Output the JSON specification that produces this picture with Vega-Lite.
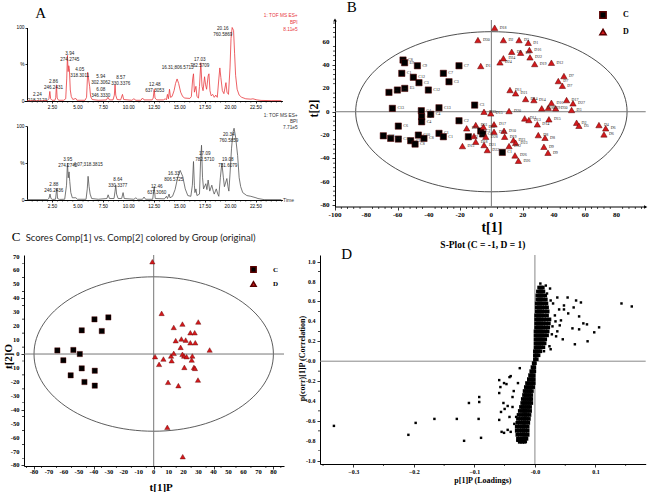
{
"$schema":"https://vega.github.io/schema/vega-lite/v6.json",
"padding":{"left":2,"top":0,"right":0,"bottom":0},
"bounds":"flush",
"align":"each",
"columns":2,
"spacing":{"row":48,"column":36},
"resolve":{"scale":{"color":"independent","shape":"independent"},"legend":{"color":"independent","shape":"independent"}},
"config":{"view":{"stroke":null},"axis":{"grid":false,"domainColor":"#000","tickColor":"#000","labelColor":"#000","titleColor":"#000","labelFont":"Liberation Serif","labelFontWeight":"bold","titleFont":"Liberation Serif","titleFontWeight":"bold","tickSize":3,"labelPadding":1,"domainWidth":1,"tickWidth":0.8,"labelFlush":false},"legend":{"padding":0}},
"concat":[
 {"width":258.4,"height":180,
  "resolve":{"scale":{"x":"independent","y":"independent"},"axis":{"x":"independent","y":"independent"}},
  "layer":[
   {"layer":[
    {"data":{"values":[{"t":0,"v":0.5},{"t":1.5,"v":0.5},{"t":2.0,"v":0.8},{"t":2.15,"v":3},{"t":2.24,"v":13},{"t":2.32,"v":3},{"t":2.45,"v":1},{"t":2.75,"v":1},{"t":2.82,"v":5},{"t":2.89,"v":22},{"t":2.96,"v":4},{"t":3.1,"v":1},{"t":3.6,"v":1},{"t":3.8,"v":3},{"t":3.9,"v":30},{"t":3.97,"v":62},{"t":4.04,"v":40},{"t":4.1,"v":48},{"t":4.16,"v":44},{"t":4.25,"v":15},{"t":4.35,"v":6},{"t":4.5,"v":2},{"t":4.79,"v":3.5},{"t":4.9,"v":1},{"t":5.7,"v":1},{"t":5.85,"v":5},{"t":5.96,"v":39},{"t":6.05,"v":30},{"t":6.15,"v":20},{"t":6.25,"v":6},{"t":6.4,"v":2},{"t":7.0,"v":1},{"t":7.8,"v":1.5},{"t":7.95,"v":5},{"t":8.1,"v":1.5},{"t":8.45,"v":1.5},{"t":8.58,"v":8},{"t":8.65,"v":22},{"t":8.72,"v":8},{"t":8.85,"v":2},{"t":9.2,"v":1.5},{"t":9.38,"v":9},{"t":9.5,"v":2},{"t":10.3,"v":1},{"t":10.5,"v":3},{"t":10.7,"v":1},{"t":11.2,"v":1},{"t":11.35,"v":4},{"t":11.5,"v":1.5},{"t":12.3,"v":1.5},{"t":12.4,"v":4},{"t":12.5,"v":16},{"t":12.58,"v":4},{"t":12.75,"v":1.5},{"t":13.4,"v":1.5},{"t":13.6,"v":3},{"t":13.7,"v":1.5},{"t":13.8,"v":9},{"t":13.9,"v":3},{"t":14.0,"v":16},{"t":14.1,"v":5},{"t":14.25,"v":6},{"t":14.45,"v":14},{"t":14.6,"v":24},{"t":14.75,"v":30},{"t":14.9,"v":24},{"t":15.1,"v":12},{"t":15.3,"v":6},{"t":15.5,"v":4},{"t":16.0,"v":3.5},{"t":16.15,"v":6},{"t":16.28,"v":30},{"t":16.36,"v":37},{"t":16.45,"v":12},{"t":16.6,"v":20},{"t":16.7,"v":6},{"t":16.85,"v":4},{"t":16.95,"v":20},{"t":17.08,"v":52},{"t":17.2,"v":20},{"t":17.3,"v":14},{"t":17.45,"v":33},{"t":17.55,"v":22},{"t":17.65,"v":16},{"t":17.8,"v":34},{"t":17.88,"v":37},{"t":17.98,"v":14},{"t":18.1,"v":7},{"t":18.25,"v":9},{"t":18.4,"v":5},{"t":18.55,"v":8},{"t":18.7,"v":5},{"t":18.85,"v":30},{"t":18.95,"v":45},{"t":19.05,"v":32},{"t":19.2,"v":14},{"t":19.35,"v":10},{"t":19.55,"v":25},{"t":19.65,"v":12},{"t":19.8,"v":9},{"t":19.95,"v":45},{"t":20.05,"v":85},{"t":20.16,"v":100},{"t":20.3,"v":96},{"t":20.4,"v":65},{"t":20.5,"v":35},{"t":20.65,"v":16},{"t":20.85,"v":8},{"t":21.1,"v":5},{"t":21.5,"v":3},{"t":22.0,"v":2.5},{"t":22.2,"v":3},{"t":22.6,"v":1.5},{"t":23.0,"v":0.8},{"t":24.0,"v":0.5},{"t":25.0,"v":0.5}]},
     "mark":{"type":"line","color":"#e8383d","strokeWidth":0.8},
     "encoding":{
      "x":{"field":"t","type":"quantitative","scale":{"domain":[-0.3,25.1],"nice":false,"zero":false},
       "axis":{"title":null,"orient":"bottom","offset":-99,"labels":false,"values":[2.5,5,7.5,10,12.5,15,17.5,20,22.5],"tickSize":2}},
      "y":{"field":"v","type":"quantitative","scale":{"domain":[0,100],"range":[81,7.5],"nice":false},
       "axis":{"title":null,"orient":"left","values":[0,50,100],"labelExpr":"datum.value == 50 ? '%' : datum.label","offset":-3,"labelFont":"Liberation Sans","labelFontWeight":"normal","labelFontSize":4.8,"tickSize":2,"labelPadding":1}}}},
    {"data":{"values":[{"t":0.5},{"t":1},{"t":1.5},{"t":2},{"t":3},{"t":3.5},{"t":4},{"t":4.5},{"t":5.5},{"t":6},{"t":6.5},{"t":7},{"t":8},{"t":8.5},{"t":9},{"t":9.5},{"t":10.5},{"t":11},{"t":11.5},{"t":12},{"t":13},{"t":13.5},{"t":14},{"t":14.5},{"t":15.5},{"t":16},{"t":16.5},{"t":17},{"t":18},{"t":18.5},{"t":19},{"t":19.5},{"t":20.5},{"t":21},{"t":21.5},{"t":22},{"t":23},{"t":23.5},{"t":24},{"t":24.5},{"t":25}]},
     "mark":{"type":"tick","orient":"vertical","size":1.5,"thickness":0.7,"color":"#000","yOffset":0.75,"opacity":1},
     "encoding":{"x":{"field":"t","type":"quantitative"},"y":{"datum":0,"type":"quantitative"}}},
    {"data":{"values":[{"t":2.5,"l":"2.50"},{"t":5,"l":"5.00"},{"t":7.5,"l":"7.50"},{"t":10,"l":"10.00"},{"t":12.5,"l":"12.50"},{"t":15,"l":"15.00"},{"t":17.5,"l":"17.50"},{"t":20,"l":"20.00"},{"t":22.5,"l":"22.50"}]},
     "mark":{"type":"text","font":"Liberation Sans","fontSize":4.8,"baseline":"top","align":"center","dy":3.5,"color":"#000"},
     "encoding":{"x":{"field":"t","type":"quantitative"},"y":{"datum":0,"type":"quantitative"},"text":{"field":"l"}}},
    {"data":{"values":[{"t":1.02,"v":4.8,"lbl":"2.24\n218.2123"},{"t":2.6,"v":23.8,"lbl":"2.86\n246.2431"},{"t":4.2,"v":61.9,"lbl":"3.94\n274.2745"},{"t":5.18,"v":40.1,"lbl":"4.05\n318.3011"},{"t":7.25,"v":30.6,"lbl":"5.94\n302.3062"},{"t":7.25,"v":12.9,"lbl":"6.08\n346.3330"},{"t":9.21,"v":27.9,"lbl":"8.57\n330.3376"},{"t":12.56,"v":18.4,"lbl":"12.48\n637.3053"},{"t":14.8,"v":41.5,"lbl":"16.31;806.5713"},{"t":16.98,"v":53.7,"lbl":"17.03\n782.5709"},{"t":19.24,"v":94.6,"lbl":"20.16\n760.5869"}]},
     "mark":{"type":"text","font":"Liberation Sans","fontSize":4.6,"lineHeight":6,"lineBreak":"\n","baseline":"bottom","align":"center","color":"#222"},
     "encoding":{"x":{"field":"t","type":"quantitative"},"y":{"field":"v","type":"quantitative"},"text":{"field":"lbl"}}},
    {"data":{"values":[{"t":26.6,"v":120.4,"lbl":"1: TOF MS ES+\nBPI\n8.11e5"}]},
     "mark":{"type":"text","font":"Liberation Sans","fontSize":4.8,"lineHeight":7,"lineBreak":"\n","baseline":"top","align":"right","color":"#e8383d"},
     "encoding":{"x":{"field":"t","type":"quantitative"},"y":{"field":"v","type":"quantitative"},"text":{"field":"lbl"}}},
    {"data":{"values":[{"t":1.35,"v":113,"lbl":"A"}]},
     "mark":{"type":"text","font":"Liberation Serif","fontSize":15,"baseline":"alphabetic","align":"center","color":"#000"},
     "encoding":{"x":{"field":"t","type":"quantitative"},"y":{"field":"v","type":"quantitative"},"text":{"field":"lbl"}}}
   ]},
   {"layer":[
    {"data":{"values":[{"t":0,"v":0.5},{"t":2.0,"v":0.5},{"t":2.15,"v":2},{"t":2.26,"v":8},{"t":2.35,"v":2},{"t":2.5,"v":0.8},{"t":2.8,"v":1},{"t":2.92,"v":16},{"t":3.0,"v":2},{"t":3.2,"v":0.8},{"t":3.7,"v":1},{"t":3.88,"v":20},{"t":3.97,"v":50},{"t":4.05,"v":30},{"t":4.13,"v":38},{"t":4.2,"v":25},{"t":4.3,"v":10},{"t":4.45,"v":3},{"t":4.8,"v":3},{"t":4.95,"v":1},{"t":5.8,"v":1},{"t":5.92,"v":15},{"t":6.0,"v":32},{"t":6.1,"v":18},{"t":6.2,"v":8},{"t":6.35,"v":2},{"t":7.0,"v":1},{"t":7.85,"v":2},{"t":7.97,"v":7},{"t":8.1,"v":2},{"t":8.55,"v":2},{"t":8.65,"v":12},{"t":8.72,"v":20},{"t":8.8,"v":8},{"t":8.95,"v":2},{"t":9.3,"v":2},{"t":9.44,"v":10},{"t":9.55,"v":2},{"t":10.5,"v":1},{"t":10.7,"v":3},{"t":10.85,"v":1},{"t":11.35,"v":1},{"t":11.5,"v":4},{"t":11.65,"v":1},{"t":12.35,"v":1},{"t":12.5,"v":18},{"t":12.6,"v":2},{"t":13.5,"v":1.5},{"t":13.7,"v":5},{"t":13.8,"v":2},{"t":13.96,"v":8},{"t":14.05,"v":3},{"t":14.3,"v":5},{"t":14.55,"v":14},{"t":14.8,"v":30},{"t":15.05,"v":40},{"t":15.3,"v":32},{"t":15.55,"v":15},{"t":15.8,"v":6},{"t":16.1,"v":5},{"t":16.25,"v":20},{"t":16.36,"v":52},{"t":16.45,"v":20},{"t":16.5,"v":10},{"t":16.6,"v":15},{"t":16.7,"v":6},{"t":16.95,"v":8},{"t":17.05,"v":50},{"t":17.15,"v":74},{"t":17.25,"v":30},{"t":17.35,"v":15},{"t":17.57,"v":22},{"t":17.68,"v":14},{"t":17.8,"v":27},{"t":17.96,"v":12},{"t":18.16,"v":20},{"t":18.3,"v":12},{"t":18.4,"v":8},{"t":18.6,"v":15},{"t":18.75,"v":8},{"t":18.85,"v":5},{"t":19.0,"v":30},{"t":19.15,"v":50},{"t":19.3,"v":30},{"t":19.4,"v":18},{"t":19.64,"v":29},{"t":19.75,"v":18},{"t":19.84,"v":12},{"t":19.95,"v":35},{"t":20.1,"v":70},{"t":20.25,"v":92},{"t":20.35,"v":97},{"t":20.5,"v":85},{"t":20.7,"v":60},{"t":20.85,"v":30},{"t":21.0,"v":18},{"t":21.2,"v":10},{"t":21.6,"v":6},{"t":22.0,"v":5},{"t":22.5,"v":3},{"t":22.7,"v":2},{"t":23.3,"v":0.5},{"t":25.0,"v":0.5}]},
     "mark":{"type":"line","color":"#555","strokeWidth":0.8},
     "encoding":{
      "x":{"field":"t","type":"quantitative","scale":{"domain":[-0.3,25.1],"nice":false,"zero":false},
       "axis":{"title":null,"orient":"bottom","labels":false,"values":[2.5,5,7.5,10,12.5,15,17.5,20,22.5],"tickSize":2}},
      "y":{"field":"v","type":"quantitative","scale":{"domain":[0,100],"range":[180,106],"nice":false},
       "axis":{"title":null,"orient":"left","values":[0,50,100],"labelExpr":"datum.value == 50 ? '%' : datum.label","offset":-3,"labelFont":"Liberation Sans","labelFontWeight":"normal","labelFontSize":4.8,"tickSize":2,"labelPadding":1}}}},
    {"data":{"values":[{"t":0.5},{"t":1},{"t":1.5},{"t":2},{"t":3},{"t":3.5},{"t":4},{"t":4.5},{"t":5.5},{"t":6},{"t":6.5},{"t":7},{"t":8},{"t":8.5},{"t":9},{"t":9.5},{"t":10.5},{"t":11},{"t":11.5},{"t":12},{"t":13},{"t":13.5},{"t":14},{"t":14.5},{"t":15.5},{"t":16},{"t":16.5},{"t":17},{"t":18},{"t":18.5},{"t":19},{"t":19.5},{"t":20.5},{"t":21},{"t":21.5},{"t":22},{"t":23},{"t":23.5},{"t":24},{"t":24.5},{"t":25}]},
     "mark":{"type":"tick","orient":"vertical","size":1.5,"thickness":0.7,"color":"#000","yOffset":0.75,"opacity":1},
     "encoding":{"x":{"field":"t","type":"quantitative"},"y":{"datum":0,"type":"quantitative"}}},
    {"data":{"values":[{"t":2.5,"l":"2.50"},{"t":5,"l":"5.00"},{"t":7.5,"l":"7.50"},{"t":10,"l":"10.00"},{"t":12.5,"l":"12.50"},{"t":15,"l":"15.00"},{"t":17.5,"l":"17.50"},{"t":20,"l":"20.00"},{"t":22.5,"l":"22.50"}]},
     "mark":{"type":"text","font":"Liberation Sans","fontSize":4.8,"baseline":"top","align":"center","dy":3.5,"color":"#000"},
     "encoding":{"x":{"field":"t","type":"quantitative"},"y":{"datum":0,"type":"quantitative"},"text":{"field":"l"}}},
    {"data":{"values":[{"t":2.63,"v":16.9,"lbl":"2.88\n246.2436"},{"t":4.0,"v":52,"lbl":"3.95\n274.2742"},{"t":6.0,"v":44.5,"lbl":"4.07;318.3815"},{"t":8.92,"v":25,"lbl":"8.64\n330.3377"},{"t":12.75,"v":14.2,"lbl":"12.46\n637.3060"},{"t":14.42,"v":31.8,"lbl":"16.33\n806.5725"},{"t":17.47,"v":60.1,"lbl":"17.09\n782.5710"},{"t":19.73,"v":52,"lbl":"19.08\n731.6079"},{"t":19.83,"v":84.5,"lbl":"20.34\n760.5859"}]},
     "mark":{"type":"text","font":"Liberation Sans","fontSize":4.6,"lineHeight":6,"lineBreak":"\n","baseline":"bottom","align":"center","color":"#222"},
     "encoding":{"x":{"field":"t","type":"quantitative"},"y":{"field":"v","type":"quantitative"},"text":{"field":"lbl"}}},
    {"data":{"values":[{"t":26.6,"v":118.2,"lbl":"1: TOF MS ES+\nBPI\n7.71e5"}]},
     "mark":{"type":"text","font":"Liberation Sans","fontSize":4.8,"lineHeight":6,"lineBreak":"\n","baseline":"top","align":"right","color":"#333"},
     "encoding":{"x":{"field":"t","type":"quantitative"},"y":{"field":"v","type":"quantitative"},"text":{"field":"lbl"}}},
    {"data":{"values":[{"t":25.7,"v":0,"lbl":"Time"}]},
     "mark":{"type":"text","font":"Liberation Sans","fontSize":5,"baseline":"middle","align":"center","color":"#333"},
     "encoding":{"x":{"field":"t","type":"quantitative"},"y":{"field":"v","type":"quantitative"},"text":{"field":"lbl"}}}
   ]}
  ]},
 {"width":325.7,"height":187,
  "layer":[
   {"data":{"values":[{"cx":0,"cy":0}]},
    "mark":{"type":"point","shape":"M-1,0C-1,-0.326,-0.552,-0.59,0,-0.59C0.552,-0.59,1,-0.326,1,0C1,0.326,0.552,0.59,0,0.59C-0.552,0.59,-1,0.326,-1,0Z","size":73658,"filled":false,"stroke":"#222","strokeWidth":0.8,"opacity":1},
    "encoding":{
     "x":{"field":"cx","type":"quantitative","scale":{"domain":[-109.6,98.7],"nice":false,"zero":false},
      "axis":{"title":"t[1]","titleFontSize":14,"titleX":171.4,"titleY":20,"titleBaseline":"middle","titleAlign":"center","domain":false,"labels":false,"values":[-100,-80,-60,-40,-20,0,20,40,60,80],"tickSize":3}},
     "y":{"field":"cy","type":"quantitative","scale":{"domain":[-81.6,78.6],"nice":false,"zero":false},
      "axis":{"title":"t[2]","titleFontSize":12,"titleX":-21.3,"titleY":88,"titleBaseline":"middle","titleAlign":"center","titleAngle":-90,"offset":-15,"labels":false,"values":[-80,-60,-40,-20,0,20,40,60],"tickSize":3}}}},
   {"data":{"values":[{}]},"mark":{"type":"rule","color":"#000","strokeWidth":1},"encoding":{"x":{"datum":-100},"x2":{"datum":98.7},"y":{"datum":-81.6}}},
   {"data":{"values":[{"v":-96},{"v":-92},{"v":-88},{"v":-84},{"v":-76},{"v":-72},{"v":-68},{"v":-64},{"v":-56},{"v":-52},{"v":-48},{"v":-44},{"v":-36},{"v":-32},{"v":-28},{"v":-24},{"v":-16},{"v":-12},{"v":-8},{"v":-4},{"v":4},{"v":8},{"v":12},{"v":16},{"v":24},{"v":28},{"v":32},{"v":36},{"v":44},{"v":48},{"v":52},{"v":56},{"v":64},{"v":68},{"v":72},{"v":76},{"v":84},{"v":88},{"v":92},{"v":96}]},
    "mark":{"type":"tick","orient":"vertical","size":2,"thickness":0.7,"color":"#000","yOffset":1,"opacity":1},
    "encoding":{"x":{"field":"v","type":"quantitative"},"y":{"datum":-81.6,"type":"quantitative"}}},
   {"data":{"values":[{"v":-76},{"v":-72},{"v":-68},{"v":-64},{"v":-56},{"v":-52},{"v":-48},{"v":-44},{"v":-36},{"v":-32},{"v":-28},{"v":-24},{"v":-16},{"v":-12},{"v":-8},{"v":-4},{"v":4},{"v":8},{"v":12},{"v":16},{"v":24},{"v":28},{"v":32},{"v":36},{"v":44},{"v":48},{"v":52},{"v":56},{"v":64},{"v":68},{"v":72},{"v":76}]},
    "mark":{"type":"tick","orient":"horizontal","size":2,"thickness":0.7,"color":"#000","xOffset":-1,"opacity":1},
    "encoding":{"y":{"field":"v","type":"quantitative"},"x":{"datum":-100,"type":"quantitative"}}},
   {"data":{"values":[{"v":-100,"l":"-100"},{"v":-80,"l":"-80"},{"v":-60,"l":"-60"},{"v":-40,"l":"-40"},{"v":-20,"l":"-20"},{"v":0,"l":"0"},{"v":20,"l":"20"},{"v":40,"l":"40"},{"v":60,"l":"60"},{"v":80,"l":"80"}]},
    "mark":{"type":"text","font":"Liberation Serif","fontWeight":"bold","fontSize":7,"baseline":"top","align":"center","dy":3.5,"color":"#000"},
    "encoding":{"x":{"field":"v","type":"quantitative"},"y":{"datum":-81.6,"type":"quantitative"},"text":{"field":"l"}}},
   {"data":{"values":[{"v":-80,"l":"-80"},{"v":-60,"l":"-60"},{"v":-40,"l":"-40"},{"v":-20,"l":"-20"},{"v":0,"l":"0"},{"v":20,"l":"20"},{"v":40,"l":"40"},{"v":60,"l":"60"}]},
    "mark":{"type":"text","font":"Liberation Serif","fontWeight":"bold","fontSize":7,"baseline":"middle","align":"right","dx":-5.5,"color":"#000"},
    "encoding":{"y":{"field":"v","type":"quantitative"},"x":{"datum":-100,"type":"quantitative"},"text":{"field":"l"}}},
   {"data":{"values":[{}]},"mark":{"type":"rule","color":"#777","strokeWidth":1},"encoding":{"x":{"datum":-100},"x2":{"datum":98.7},"y":{"datum":0}}},
   {"data":{"values":[{}]},"mark":{"type":"rule","color":"#777","strokeWidth":1},"encoding":{"x":{"datum":0}}},
   {"data":{"name":"bpts","values":[{"x":-56.5,"y":44.3,"g":"C","l":"C8"},{"x":-55.5,"y":42,"g":"C","l":"E9"},{"x":-47.3,"y":39.4,"g":"C","l":"C9"},{"x":-20.7,"y":39.4,"g":"C","l":"C7"},{"x":-57.3,"y":32.9,"g":"C","l":"C1"},{"x":-49.9,"y":29.5,"g":"C","l":"C12"},{"x":-30.7,"y":32.9,"g":"C","l":"C7"},{"x":-46.3,"y":24.9,"g":"C","l":"C3"},{"x":-27.1,"y":25.7,"g":"C","l":"C3"},{"x":-65.5,"y":16.6,"g":"C","l":"C5"},{"x":-60.1,"y":18.6,"g":"C","l":"C5"},{"x":-55.4,"y":20,"g":"C","l":"E5"},{"x":-40.3,"y":18.6,"g":"C","l":"C12"},{"x":-63.3,"y":2.9,"g":"C","l":"C13"},{"x":-33.5,"y":3.4,"g":"C","l":"C13"},{"x":-10.7,"y":5.7,"g":"C","l":"C3"},{"x":-44.8,"y":0.9,"g":"C","l":"C4"},{"x":-38.8,"y":-2.2,"g":"C","l":"C4"},{"x":-44.6,"y":-4.3,"g":"C","l":"C4"},{"x":-44.6,"y":-8.6,"g":"C","l":"C4"},{"x":-20.7,"y":-7.7,"g":"C","l":"C2"},{"x":-59.5,"y":-12.3,"g":"C","l":"C6"},{"x":-69.1,"y":-20.6,"g":"C","l":"C11"},{"x":-64.4,"y":-22.8,"g":"C","l":"C11"},{"x":-59.5,"y":-23.4,"g":"C","l":"C10"},{"x":-51.6,"y":-24.8,"g":"C","l":"C10"},{"x":-48.8,"y":-27.7,"g":"C","l":"C8"},{"x":-46.7,"y":-20,"g":"C","l":"C10"},{"x":-43.1,"y":-22.8,"g":"C","l":"C8"},{"x":-33.5,"y":-18.5,"g":"C","l":"C1"},{"x":-30.7,"y":-21.4,"g":"C","l":"C1"},{"x":-6.8,"y":-16.5,"g":"C","l":"C2"},{"x":-5.5,"y":-19,"g":"C","l":"C6"},{"x":-14.7,"y":-21.4,"g":"C","l":"C2"},{"x":7,"y":-34.8,"g":"C","l":"C1"},
    {"x":2.1,"y":72,"g":"D","l":"D18"},{"x":-8.6,"y":61.4,"g":"D","l":"D30"},{"x":7.7,"y":61.4,"g":"D","l":"D2"},{"x":17.7,"y":61.4,"g":"D","l":"D3"},{"x":23.6,"y":59.1,"g":"D","l":"D1"},{"x":13,"y":51.4,"g":"D","l":"D5"},{"x":18.7,"y":50.6,"g":"D","l":"D9"},{"x":24.3,"y":52.9,"g":"D","l":"D16"},{"x":24.7,"y":46.6,"g":"D","l":"D22"},{"x":27.7,"y":40.9,"g":"D","l":"D19"},{"x":38.4,"y":42,"g":"D","l":"D12"},{"x":7.7,"y":45.8,"g":"D","l":"D24"},{"x":5.5,"y":42.3,"g":"D","l":"D24"},{"x":-6.8,"y":39.2,"g":"D","l":"D1"},{"x":46.4,"y":30.6,"g":"D","l":"D7"},{"x":42.8,"y":26.3,"g":"D","l":"D7"},{"x":45.4,"y":22.3,"g":"D","l":"D7"},{"x":11.9,"y":18.6,"g":"D","l":"D11"},{"x":15.5,"y":15.8,"g":"D","l":"D21"},{"x":21.9,"y":10.9,"g":"D","l":"D14"},{"x":27.2,"y":10,"g":"D","l":"D14"},{"x":38.4,"y":7.7,"g":"D","l":"D16"},{"x":48.1,"y":10,"g":"D","l":"D17"},{"x":52.2,"y":7.2,"g":"D","l":"D27"},{"x":32.2,"y":2.9,"g":"D","l":"D28"},{"x":36.4,"y":3.4,"g":"D","l":"D29"},{"x":41.1,"y":2.9,"g":"D","l":"D30"},{"x":51.3,"y":1.5,"g":"D","l":"D3"},{"x":-4.7,"y":0,"g":"D","l":"D33"},{"x":-0.4,"y":-1.4,"g":"D","l":"D15"},{"x":11.3,"y":0.6,"g":"D","l":"D20"},{"x":21.3,"y":-5.7,"g":"D","l":"D11"},{"x":24,"y":-7.1,"g":"D","l":"D13"},{"x":29.4,"y":-10.8,"g":"D","l":"D14"},{"x":36.8,"y":-6.5,"g":"D","l":"D15"},{"x":54.5,"y":-9.4,"g":"D","l":"D2"},{"x":56,"y":-12,"g":"D","l":"D5"},{"x":68.8,"y":-11.4,"g":"D","l":"D4"},{"x":73.1,"y":-14.2,"g":"D","l":"D6"},{"x":72,"y":-19.4,"g":"D","l":"D6"},{"x":-15.8,"y":-14.2,"g":"D","l":"D31"},{"x":-10,"y":-11.4,"g":"D","l":"D31"},{"x":-5.1,"y":-12.9,"g":"D","l":"D32"},{"x":1.7,"y":-10.8,"g":"D","l":"D17"},{"x":1.7,"y":-17.1,"g":"D","l":"D13"},{"x":8.1,"y":-16.3,"g":"D","l":"D10"},{"x":30,"y":-20,"g":"D","l":"D8"},{"x":34.3,"y":-22.3,"g":"D","l":"D8"},{"x":-11.1,"y":-20.8,"g":"D","l":"D25"},{"x":-3.6,"y":-21.4,"g":"D","l":"D28"},{"x":8.5,"y":-21.4,"g":"D","l":"D19"},{"x":14.1,"y":-24.3,"g":"D","l":"D23"},{"x":-10,"y":-25.7,"g":"D","l":"D18"},{"x":-18.5,"y":-29.4,"g":"D","l":"D15"},{"x":-4.7,"y":-28.5,"g":"D","l":"D21"},{"x":11.3,"y":-29.4,"g":"D","l":"D12"},{"x":15.5,"y":-26.6,"g":"D","l":"D23"},{"x":33.6,"y":-30,"g":"D","l":"D9"},{"x":36.2,"y":-35.1,"g":"D","l":"D9"},{"x":-2.6,"y":-32.8,"g":"D","l":"D22"},{"x":15.1,"y":-37.4,"g":"D","l":"D26"},{"x":17.3,"y":-42,"g":"D","l":"D26"}]},
    "mark":{"type":"point","filled":true,"size":40,"opacity":1,"stroke":"#5a0000","strokeWidth":0.5},
    "encoding":{"x":{"field":"x","type":"quantitative"},"y":{"field":"y","type":"quantitative"},
     "color":{"field":"g","type":"nominal","scale":{"domain":["C","D"],"range":["#000000","#d3191c"]},"legend":{"orient":"none","legendX":279,"legendY":-9,"title":null,"labelFont":"Liberation Serif","labelFontWeight":"bold","labelFontSize":8,"labelOffset":16,"rowPadding":4,"symbolSize":40}},
     "shape":{"field":"g","type":"nominal","scale":{"domain":["C","D"],"range":["square","triangle-up"]},"legend":{"orient":"none","legendX":279,"legendY":-9,"title":null,"labelFont":"Liberation Serif","labelFontWeight":"bold","labelFontSize":8,"labelOffset":16,"rowPadding":4,"symbolSize":40}}}},
   {"data":{"name":"bpts"},
    "mark":{"type":"text","font":"Liberation Serif","fontSize":4,"align":"left","baseline":"middle","dx":5,"color":"#222"},
    "encoding":{"x":{"field":"x","type":"quantitative"},"y":{"field":"y","type":"quantitative"},"text":{"field":"l"}}},
   {"data":{"values":[{"x":-100,"y":78.6,"s":"triangle-up"},{"x":98.7,"y":-81.6,"s":"triangle-right"}]},
    "mark":{"type":"point","filled":true,"size":14,"opacity":1,"color":"#000"},
    "encoding":{"x":{"field":"x","type":"quantitative"},"y":{"field":"y","type":"quantitative"},"shape":{"field":"s","type":"nominal","scale":null,"legend":null}}},
   {"data":{"values":[{"x":-89.3,"y":85.4,"lbl":"B"}]},
    "mark":{"type":"text","font":"Liberation Serif","fontSize":15,"baseline":"alphabetic","align":"center","color":"#000"},
    "encoding":{"x":{"field":"x","type":"quantitative"},"y":{"field":"y","type":"quantitative"},"text":{"field":"lbl"}}}
  ]},
 {"width":260,"height":211,
  "layer":[
   {"data":{"values":[{"cx":0,"cy":0}]},
    "mark":{"type":"point","shape":"M-1,0C-1,-0.356,-0.552,-0.645,0,-0.645C0.552,-0.645,1,-0.356,1,0C1,0.356,0.552,0.645,0,0.645C-0.552,0.645,-1,0.356,-1,0Z","size":57312,"filled":false,"stroke":"#333","strokeWidth":0.8,"opacity":1},
    "encoding":{
     "x":{"field":"cx","type":"quantitative","scale":{"domain":[-86.7,87.1],"nice":false,"zero":false},
      "axis":{"title":"t[1]P","titleFontSize":11,"titleX":136.7,"titleY":21,"titleBaseline":"middle","titleAlign":"center","labels":false,"values":[-80,-70,-60,-50,-40,-30,-20,-10,0,10,20,30,40,50,60,70,80],"tickSize":3}},
     "y":{"field":"cy","type":"quantitative","scale":{"domain":[-80.4,71.1],"nice":false,"zero":false},
      "axis":{"title":"t[2]O","titleFontSize":11,"titleX":-15.3,"titleY":101,"titleBaseline":"middle","titleAlign":"center","titleAngle":-90,"labels":false,"values":[-80,-70,-60,-50,-40,-30,-20,-10,0,10,20,30,40,50,60,70],"tickSize":3}}}},
   {"data":{"values":[{"v":-85},{"v":-75},{"v":-65},{"v":-55},{"v":-45},{"v":-35},{"v":-25},{"v":-15},{"v":-5},{"v":5},{"v":15},{"v":25},{"v":35},{"v":45},{"v":55},{"v":65},{"v":75},{"v":85}]},
    "mark":{"type":"tick","orient":"vertical","size":2,"thickness":0.7,"color":"#000","yOffset":1,"opacity":1},
    "encoding":{"x":{"field":"v","type":"quantitative"},"y":{"datum":-80.4,"type":"quantitative"}}},
   {"data":{"values":[{"v":-75},{"v":-65},{"v":-55},{"v":-45},{"v":-35},{"v":-25},{"v":-15},{"v":-5},{"v":5},{"v":15},{"v":25},{"v":35},{"v":45},{"v":55},{"v":65}]},
    "mark":{"type":"tick","orient":"horizontal","size":2,"thickness":0.7,"color":"#000","xOffset":-1,"opacity":1},
    "encoding":{"y":{"field":"v","type":"quantitative"},"x":{"datum":-86.7,"type":"quantitative"}}},
   {"data":{"values":[{"v":-80,"l":"-80"},{"v":-70,"l":"-70"},{"v":-60,"l":"-60"},{"v":-50,"l":"-50"},{"v":-40,"l":"-40"},{"v":-30,"l":"-30"},{"v":-20,"l":"-20"},{"v":-10,"l":"-10"},{"v":0,"l":"0"},{"v":10,"l":"10"},{"v":20,"l":"20"},{"v":30,"l":"30"},{"v":40,"l":"40"},{"v":50,"l":"50"},{"v":60,"l":"60"},{"v":70,"l":"70"},{"v":80,"l":"80"}]},
    "mark":{"type":"text","font":"Liberation Serif","fontWeight":"bold","fontSize":6.5,"baseline":"top","align":"center","dy":3,"color":"#000"},
    "encoding":{"x":{"field":"v","type":"quantitative"},"y":{"datum":-80.4,"type":"quantitative"},"text":{"field":"l"}}},
   {"data":{"values":[{"v":-80,"l":"-80"},{"v":-70,"l":"-70"},{"v":-60,"l":"-60"},{"v":-50,"l":"-50"},{"v":-40,"l":"-40"},{"v":-30,"l":"-30"},{"v":-20,"l":"-20"},{"v":-10,"l":"-10"},{"v":0,"l":"0"},{"v":10,"l":"10"},{"v":20,"l":"20"},{"v":30,"l":"30"},{"v":40,"l":"40"},{"v":50,"l":"50"},{"v":60,"l":"60"},{"v":70,"l":"70"}]},
    "mark":{"type":"text","font":"Liberation Serif","fontWeight":"bold","fontSize":6.5,"baseline":"middle","align":"right","dx":-4.5,"color":"#000"},
    "encoding":{"y":{"field":"v","type":"quantitative"},"x":{"datum":-86.7,"type":"quantitative"},"text":{"field":"l"}}},
   {"data":{"values":[{}]},"mark":{"type":"rule","color":"#777","strokeWidth":1},"encoding":{"y":{"datum":0}}},
   {"data":{"values":[{}]},"mark":{"type":"rule","color":"#777","strokeWidth":1},"encoding":{"x":{"datum":0}}},
   {"data":{"values":[{"x":-30.3,"y":26.3,"g":"C"},{"x":-39.6,"y":24.9,"g":"C"},{"x":-48.1,"y":17,"g":"C"},{"x":-34.7,"y":16.5,"g":"C"},{"x":-64.4,"y":2.6,"g":"C"},{"x":-53.7,"y":2.9,"g":"C"},{"x":-49.4,"y":0,"g":"C"},{"x":-60.4,"y":-4.5,"g":"C"},{"x":-48.1,"y":-10.3,"g":"C"},{"x":-39.4,"y":-12,"g":"C"},{"x":-55.5,"y":-15.3,"g":"C"},{"x":-46.3,"y":-20.1,"g":"C"},{"x":-39.4,"y":-22.7,"g":"C"},
     {"x":-0.9,"y":66.3,"g":"D"},{"x":5.3,"y":29.2,"g":"D"},{"x":19.2,"y":21.5,"g":"D"},{"x":29.8,"y":23,"g":"D"},{"x":13.4,"y":19.1,"g":"D"},{"x":24.5,"y":15.3,"g":"D"},{"x":27.4,"y":15.3,"g":"D"},{"x":14.7,"y":9.6,"g":"D"},{"x":18.5,"y":10.8,"g":"D"},{"x":21.4,"y":10,"g":"D"},{"x":24.5,"y":8.1,"g":"D"},{"x":27.8,"y":8.1,"g":"D"},{"x":18,"y":4.8,"g":"D"},{"x":37.4,"y":2.9,"g":"D"},{"x":0.9,"y":-1.9,"g":"D"},{"x":6.5,"y":-3.6,"g":"D"},{"x":3.6,"y":-7.4,"g":"D"},{"x":11.6,"y":-1.4,"g":"D"},{"x":13.4,"y":0.5,"g":"D"},{"x":12,"y":-4.8,"g":"D"},{"x":19.2,"y":-0.2,"g":"D"},{"x":20.3,"y":-1.4,"g":"D"},{"x":22,"y":-1.9,"g":"D"},{"x":25.4,"y":-4.3,"g":"D"},{"x":25.8,"y":-1.4,"g":"D"},{"x":20.5,"y":-9.6,"g":"D"},{"x":26.9,"y":-9.6,"g":"D"},{"x":27.6,"y":-10.3,"g":"D"},{"x":29.6,"y":-18.7,"g":"D"},{"x":9.6,"y":-20.3,"g":"D"},{"x":16.5,"y":-22.7,"g":"D"},{"x":9.1,"y":-52.6,"g":"D"},{"x":19.4,"y":-73.7,"g":"D"}]},
    "mark":{"type":"point","filled":true,"size":28,"opacity":1,"stroke":"#5a0000","strokeWidth":0.4},
    "encoding":{"x":{"field":"x","type":"quantitative"},"y":{"field":"y","type":"quantitative"},
     "color":{"field":"g","type":"nominal","scale":{"domain":["C","D"],"range":["#000000","#d3191c"]},"legend":{"orient":"none","legendX":226,"legendY":11,"title":null,"labelFont":"Liberation Serif","labelFontWeight":"bold","labelFontSize":7,"labelOffset":16,"rowPadding":2.5,"symbolSize":28}},
     "shape":{"field":"g","type":"nominal","scale":{"domain":["C","D"],"range":["square","triangle-up"]},"legend":{"orient":"none","legendX":226,"legendY":11,"title":null,"labelFont":"Liberation Serif","labelFontWeight":"bold","labelFontSize":7,"labelOffset":16,"rowPadding":2.5,"symbolSize":28}}}},
   {"data":{"values":[{"x":-85.6,"y":81.1,"lbl":"Scores Comp[1] vs. Comp[2] colored by Group (original)"}]},
    "mark":{"type":"text","font":"Lato","fontSize":9.5,"baseline":"alphabetic","align":"left","color":"#222"},
    "encoding":{"x":{"field":"x","type":"quantitative"},"y":{"field":"y","type":"quantitative"},"text":{"field":"lbl"}}},
   {"data":{"values":[{"x":-94.9,"y":81.1,"lbl":"C"}]},
    "mark":{"type":"text","font":"Liberation Serif","fontSize":13,"baseline":"alphabetic","align":"left","color":"#000"},
    "encoding":{"x":{"field":"x","type":"quantitative"},"y":{"field":"y","type":"quantitative"},"text":{"field":"lbl"}}}
  ]},
 {"width":325.7,"height":209,
  "layer":[
   {"data":{"values":[{}]},"mark":{"type":"rule","color":"#888","strokeWidth":1},
    "encoding":{"y":{"datum":0,"type":"quantitative","scale":{"domain":[-1.033,1.067],"nice":false,"zero":false},
      "axis":{"title":"p(corr)[1]P (Correlation)","titleFontSize":8,"titleX":-17.8,"titleY":103,"titleBaseline":"middle","titleAlign":"center","titleAngle":-90,"labels":false,"values":[-1,-0.8,-0.6,-0.4,-0.2,0,0.2,0.4,0.6,0.8,1],"tickSize":3}}}},
   {"data":{"values":[{}]},"mark":{"type":"rule","color":"#888","strokeWidth":1},
    "encoding":{"x":{"datum":0,"type":"quantitative","scale":{"domain":[-0.355,0.183],"nice":false,"zero":false},
      "axis":{"title":"p[1]P (Loadings)","titleFontSize":8,"titleX":162.4,"titleY":16,"titleBaseline":"middle","titleAlign":"center","values":[-0.3,-0.2,-0.1,0,0.1],"labelExpr":"abs(datum.value) < 0.001 ? '-0.0' : format(datum.value, '.1f')","labelFontSize":6,"tickSize":3}}}},
   {"data":{"values":[{"v":-0.35},{"v":-0.25},{"v":-0.15},{"v":-0.05},{"v":0.05},{"v":0.15}]},
    "mark":{"type":"tick","orient":"vertical","size":2,"thickness":0.7,"color":"#000","yOffset":1,"opacity":1},
    "encoding":{"x":{"field":"v","type":"quantitative"},"y":{"datum":-1.033,"type":"quantitative"}}},
   {"data":{"values":[{"v":-0.9},{"v":-0.7},{"v":-0.5},{"v":-0.3},{"v":-0.1},{"v":0.1},{"v":0.3},{"v":0.5},{"v":0.7},{"v":0.9}]},
    "mark":{"type":"tick","orient":"horizontal","size":2,"thickness":0.7,"color":"#000","xOffset":-1,"opacity":1},
    "encoding":{"y":{"field":"v","type":"quantitative"},"x":{"datum":-0.355,"type":"quantitative"}}},
   {"data":{"values":[{"v":-1,"l":"-1.0"},{"v":-0.8,"l":"-0.8"},{"v":-0.6,"l":"-0.6"},{"v":-0.4,"l":"-0.4"},{"v":-0.2,"l":"-0.2"},{"v":0,"l":"-0.0"},{"v":0.2,"l":"0.2"},{"v":0.4,"l":"0.4"},{"v":0.6,"l":"0.6"},{"v":0.8,"l":"0.8"},{"v":1,"l":"1.0"}]},
    "mark":{"type":"text","font":"Liberation Serif","fontWeight":"bold","fontSize":6,"baseline":"middle","align":"right","dx":-4.5,"color":"#000"},
    "encoding":{"y":{"field":"v","type":"quantitative"},"x":{"datum":-0.355,"type":"quantitative"},"text":{"field":"l"}}},
   {"data":{"values":[
     {"p":0.009,"r":0.78},{"p":0.018,"r":0.76},{"p":0.025,"r":0.73},{"p":0.037,"r":0.64},{"p":0.054,"r":0.64},{"p":0.068,"r":0.61},{"p":0.076,"r":0.59},{"p":0.143,"r":0.58},{"p":0.160,"r":0.55},{"p":0.048,"r":0.56},{"p":0.064,"r":0.54},{"p":0.073,"r":0.45},{"p":0.080,"r":0.38},{"p":0.086,"r":0.37},{"p":0.106,"r":0.34},{"p":0.098,"r":0.29},{"p":0.073,"r":0.32},{"p":0.062,"r":0.33},{"p":0.046,"r":0.22},{"p":0.066,"r":0.17},{"p":0.087,"r":0.20},{"p":0.055,"r":0.48},{"p":0.043,"r":0.41},{"p":0.037,"r":0.30},{"p":0.026,"r":0.12},{"p":0.024,"r":0.15},{"p":0.015,"r":0.10},{"p":0.040,"r":0.52},{"p":0.033,"r":0.46},{"p":0.048,"r":0.52},{"p":0.026,"r":0.61},{"p":0.020,"r":0.68},{"p":0.029,"r":0.35},{"p":0.035,"r":0.25},{"p":0.030,"r":0.58},{"p":0.034,"r":0.40},{"p":0.028,"r":0.27},{"p":0.041,"r":0.36},
     {"p":-0.332,"r":-0.65},{"p":-0.209,"r":-0.74},{"p":-0.197,"r":-0.62},{"p":-0.166,"r":-0.58},{"p":-0.129,"r":-0.58},{"p":-0.117,"r":-0.80},{"p":-0.093,"r":-0.58},{"p":-0.089,"r":-0.77},{"p":-0.092,"r":-0.36},{"p":-0.092,"r":-0.41},{"p":-0.109,"r":-0.42},{"p":-0.059,"r":-0.19},{"p":-0.057,"r":-0.26},{"p":-0.051,"r":-0.22},{"p":-0.047,"r":-0.23},{"p":-0.040,"r":-0.15},{"p":-0.042,"r":-0.16},{"p":-0.025,"r":-0.07},{"p":-0.059,"r":-0.32},{"p":-0.052,"r":-0.42},{"p":-0.056,"r":-0.51},{"p":-0.059,"r":-0.59},{"p":-0.055,"r":-0.71},{"p":-0.051,"r":-0.72},{"p":-0.045,"r":-0.69},{"p":-0.040,"r":-0.71},{"p":-0.029,"r":-0.80},{"p":-0.023,"r":-0.81},{"p":-0.015,"r":-0.81},{"p":-0.037,"r":-0.36},{"p":-0.037,"r":-0.46},{"p":-0.042,"r":-0.56},{"p":-0.050,"r":-0.48},{"p":-0.034,"r":-0.63},{"p":-0.045,"r":-0.45},{"p":-0.031,"r":-0.56},{"p":-0.035,"r":-0.30},{"p":-0.028,"r":-0.22}]},
    "mark":{"type":"square","filled":true,"size":6,"opacity":1,"color":"#000"},
    "encoding":{"x":{"field":"p","type":"quantitative"},"y":{"field":"r","type":"quantitative"}}},
   {"data":{"values":[
     {"p":0.0,"r":0.02},{"p":0.003,"r":0.02},
     {"p":0.0,"r":0.06},{"p":0.003,"r":0.06},{"p":0.006,"r":0.06},
     {"p":0.0,"r":0.10},{"p":0.003,"r":0.10},{"p":0.006,"r":0.10},{"p":0.009,"r":0.10},
     {"p":0.001,"r":0.14},{"p":0.004,"r":0.14},{"p":0.007,"r":0.14},{"p":0.010,"r":0.14},{"p":0.014,"r":0.14},
     {"p":0.001,"r":0.18},{"p":0.004,"r":0.18},{"p":0.007,"r":0.18},{"p":0.010,"r":0.18},{"p":0.013,"r":0.18},{"p":0.016,"r":0.18},
     {"p":0.001,"r":0.22},{"p":0.004,"r":0.22},{"p":0.007,"r":0.22},{"p":0.010,"r":0.22},{"p":0.013,"r":0.22},{"p":0.017,"r":0.22},
     {"p":0.001,"r":0.26},{"p":0.004,"r":0.26},{"p":0.007,"r":0.26},{"p":0.010,"r":0.26},{"p":0.013,"r":0.26},{"p":0.016,"r":0.26},{"p":0.020,"r":0.26},
     {"p":0.001,"r":0.30},{"p":0.004,"r":0.30},{"p":0.007,"r":0.30},{"p":0.010,"r":0.30},{"p":0.013,"r":0.30},{"p":0.017,"r":0.30},{"p":0.021,"r":0.30},
     {"p":0.002,"r":0.34},{"p":0.005,"r":0.34},{"p":0.008,"r":0.34},{"p":0.011,"r":0.34},{"p":0.014,"r":0.34},{"p":0.018,"r":0.34},{"p":0.022,"r":0.34},
     {"p":0.002,"r":0.38},{"p":0.005,"r":0.38},{"p":0.008,"r":0.38},{"p":0.011,"r":0.38},{"p":0.014,"r":0.38},{"p":0.018,"r":0.38},{"p":0.023,"r":0.38},
     {"p":0.002,"r":0.42},{"p":0.005,"r":0.42},{"p":0.008,"r":0.42},{"p":0.011,"r":0.42},{"p":0.015,"r":0.42},{"p":0.019,"r":0.42},{"p":0.024,"r":0.42},
     {"p":0.002,"r":0.46},{"p":0.005,"r":0.46},{"p":0.008,"r":0.46},{"p":0.011,"r":0.46},{"p":0.015,"r":0.46},{"p":0.020,"r":0.46},
     {"p":0.003,"r":0.50},{"p":0.006,"r":0.50},{"p":0.009,"r":0.50},{"p":0.012,"r":0.50},{"p":0.016,"r":0.50},{"p":0.021,"r":0.50},
     {"p":0.003,"r":0.54},{"p":0.006,"r":0.54},{"p":0.009,"r":0.54},{"p":0.012,"r":0.54},{"p":0.016,"r":0.54},{"p":0.020,"r":0.54},
     {"p":0.003,"r":0.58},{"p":0.006,"r":0.58},{"p":0.009,"r":0.58},{"p":0.012,"r":0.58},{"p":0.016,"r":0.58},{"p":0.019,"r":0.58},
     {"p":0.004,"r":0.62},{"p":0.007,"r":0.62},{"p":0.010,"r":0.62},{"p":0.013,"r":0.62},{"p":0.018,"r":0.62},
     {"p":0.004,"r":0.66},{"p":0.007,"r":0.66},{"p":0.010,"r":0.66},{"p":0.013,"r":0.66},{"p":0.017,"r":0.66},
     {"p":0.005,"r":0.70},{"p":0.008,"r":0.70},{"p":0.011,"r":0.70},{"p":0.014,"r":0.70},
     {"p":0.007,"r":0.74},{"p":0.010,"r":0.74},{"p":0.013,"r":0.74},
     {"p":-0.002,"r":-0.02},{"p":0.0,"r":-0.02},
     {"p":-0.004,"r":-0.06},{"p":-0.001,"r":-0.06},
     {"p":-0.006,"r":-0.10},{"p":-0.003,"r":-0.10},{"p":-0.001,"r":-0.10},
     {"p":-0.008,"r":-0.14},{"p":-0.005,"r":-0.14},{"p":-0.002,"r":-0.14},
     {"p":-0.010,"r":-0.18},{"p":-0.007,"r":-0.18},{"p":-0.004,"r":-0.18},{"p":-0.002,"r":-0.18},
     {"p":-0.013,"r":-0.22},{"p":-0.010,"r":-0.22},{"p":-0.007,"r":-0.22},{"p":-0.004,"r":-0.22},{"p":-0.002,"r":-0.22},
     {"p":-0.015,"r":-0.26},{"p":-0.012,"r":-0.26},{"p":-0.009,"r":-0.26},{"p":-0.006,"r":-0.26},{"p":-0.003,"r":-0.26},
     {"p":-0.017,"r":-0.30},{"p":-0.014,"r":-0.30},{"p":-0.011,"r":-0.30},{"p":-0.008,"r":-0.30},{"p":-0.005,"r":-0.30},
     {"p":-0.018,"r":-0.34},{"p":-0.015,"r":-0.34},{"p":-0.012,"r":-0.34},{"p":-0.009,"r":-0.34},{"p":-0.006,"r":-0.34},
     {"p":-0.020,"r":-0.38},{"p":-0.017,"r":-0.38},{"p":-0.014,"r":-0.38},{"p":-0.011,"r":-0.38},{"p":-0.008,"r":-0.38},{"p":-0.006,"r":-0.38},
     {"p":-0.021,"r":-0.42},{"p":-0.018,"r":-0.42},{"p":-0.015,"r":-0.42},{"p":-0.012,"r":-0.42},{"p":-0.009,"r":-0.42},{"p":-0.006,"r":-0.42},
     {"p":-0.023,"r":-0.46},{"p":-0.020,"r":-0.46},{"p":-0.017,"r":-0.46},{"p":-0.014,"r":-0.46},{"p":-0.011,"r":-0.46},{"p":-0.008,"r":-0.46},
     {"p":-0.025,"r":-0.50},{"p":-0.021,"r":-0.50},{"p":-0.018,"r":-0.50},{"p":-0.015,"r":-0.50},{"p":-0.012,"r":-0.50},{"p":-0.008,"r":-0.50},
     {"p":-0.027,"r":-0.54},{"p":-0.023,"r":-0.54},{"p":-0.019,"r":-0.54},{"p":-0.016,"r":-0.54},{"p":-0.013,"r":-0.54},{"p":-0.009,"r":-0.54},
     {"p":-0.028,"r":-0.58},{"p":-0.024,"r":-0.58},{"p":-0.020,"r":-0.58},{"p":-0.017,"r":-0.58},{"p":-0.014,"r":-0.58},{"p":-0.010,"r":-0.58},
     {"p":-0.029,"r":-0.62},{"p":-0.025,"r":-0.62},{"p":-0.021,"r":-0.62},{"p":-0.018,"r":-0.62},{"p":-0.015,"r":-0.62},{"p":-0.011,"r":-0.62},
     {"p":-0.030,"r":-0.66},{"p":-0.026,"r":-0.66},{"p":-0.022,"r":-0.66},{"p":-0.019,"r":-0.66},{"p":-0.016,"r":-0.66},{"p":-0.012,"r":-0.66},
     {"p":-0.030,"r":-0.70},{"p":-0.026,"r":-0.70},{"p":-0.022,"r":-0.70},{"p":-0.019,"r":-0.70},{"p":-0.016,"r":-0.70},{"p":-0.012,"r":-0.70},
     {"p":-0.029,"r":-0.74},{"p":-0.025,"r":-0.74},{"p":-0.021,"r":-0.74},{"p":-0.018,"r":-0.74},{"p":-0.015,"r":-0.74},{"p":-0.012,"r":-0.74},
     {"p":-0.028,"r":-0.78},{"p":-0.024,"r":-0.78},{"p":-0.020,"r":-0.78},{"p":-0.017,"r":-0.78},{"p":-0.014,"r":-0.78},
     {"p":-0.025,"r":-0.81},{"p":-0.021,"r":-0.81},{"p":-0.017,"r":-0.81}]},
    "mark":{"type":"square","filled":true,"size":14,"opacity":1,"color":"#000"},
    "encoding":{"x":{"field":"p","type":"quantitative"},"y":{"field":"r","type":"quantitative"}}},
   {"data":{"values":[{"p":-0.311,"r":1.027,"lbl":"D"}]},
    "mark":{"type":"text","font":"Liberation Serif","fontSize":15,"baseline":"alphabetic","align":"center","color":"#000"},
    "encoding":{"x":{"field":"p","type":"quantitative"},"y":{"field":"r","type":"quantitative"},"text":{"field":"lbl"}}},
   {"data":{"values":[{"p":-0.086,"r":1.14,"lbl":"S-Plot (C = -1, D = 1)"}]},
    "mark":{"type":"text","font":"Liberation Serif","fontSize":9.5,"fontWeight":"bold","baseline":"alphabetic","align":"center","color":"#000"},
    "encoding":{"x":{"field":"p","type":"quantitative"},"y":{"field":"r","type":"quantitative"},"text":{"field":"lbl"}}}
  ]}
]
}
